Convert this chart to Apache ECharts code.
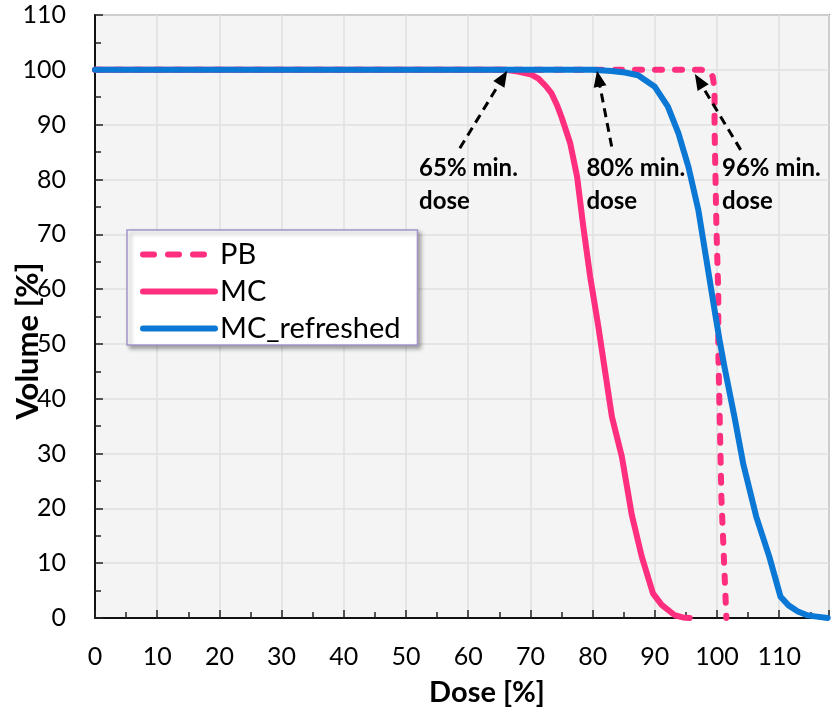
<!DOCTYPE html>
<html>
<head>
<meta charset="utf-8">
<script src="https://cdn.jsdelivr.net/npm/echarts@6/dist/echarts.min.js"></script>
<style>html,body{margin:0;padding:0;background:#fff}#c{width:832px;height:711px}</style>
</head>
<body>
<div id="c"></div>
<script>
// ---- data ----
var seriesNames = ['PB', 'MC', 'MC_refreshed'];
var pbData = [[0,100],[97.5,100],[98.6,99.8],[99.3,98.8],[99.6,96.5],[99.6,89.6],[99.9,71.4],[100.2,59.3],[100.2,48.9],[100.7,22],[101.5,0]];
var mcData = [[0,100],[66,100],[68,99.7],[70,99.2],[71.3,98.4],[72.5,97],[73.4,95.7],[74.3,93.5],[75,91.4],[76.4,86.6],[77.5,80.5],[78.5,71.4],[79.6,62.3],[80.9,53.3],[82,45],[83.1,36.7],[84.7,29.4],[86.3,18.8],[87.9,11.2],[89.7,4.5],[91.1,2.4],[93.2,0.5],[94.5,0.1],[95.6,0]];
var mcRefData = [[0,100],[80,100],[83,99.8],[85.2,99.5],[87.3,99],[90,96.9],[92.1,93.3],[93.8,88.4],[95.4,82.3],[97,74.4],[98.3,65.3],[99.6,56.2],[100.4,50.7],[101.2,45.8],[102.8,36.7],[104.2,28.2],[106.3,18.5],[108.4,11.2],[110.2,3.9],[111.5,2.3],[113,1.2],[114.5,0.5],[115.7,0.3],[117.8,0]];
var annotTexts = ['65% min.\ndose', '80% min.\ndose', '96% min.\ndose'];
var annotPos = [[52.1,79.0],[79.0,79.0],[100.8,79.0]];
var arrowFrom = [[58.65,85.7],[83.06,86.0],[103.8,85.4]];
var arrowTo = [[65.6,98.6],[80.95,98.4],[97.1,98.0]];
var xTicks = [0,10,20,30,40,50,60,70,80,90,100,110];
var yTicks = [0,10,20,30,40,50,60,70,80,90,100,110];
var xName = 'Dose [%]';
var yName = 'Volume [%]';

var PINK = '#ff2e7e', BLUE = '#0a78d4';
var FONT = 'Lato';

var chart = echarts.init(document.getElementById('c'), null, {renderer: 'canvas'});
var annotData = annotPos.map(function (p, i) { return {value: p, label: {formatter: annotTexts[i]}}; });
var arrowLines = arrowFrom.map(function (f, i) { return [{coord: f}, {coord: arrowTo[i]}]; });
var legendData = seriesNames.map(function (n, i) {
  return i === 0 ? {name: n, lineStyle: {type: [11, 14]}} : {name: n};
});

chart.setOption({
  animation: false,
  grid: {left: 95, top: 15, right: 0, bottom: 93, show: true, backgroundColor: '#f4f4f4', borderColor: '#999', borderWidth: 2},
  legend: {
    data: legendData, orient: 'vertical', left: 127, top: 230,
    backgroundColor: '#fff', borderColor: '#a394c9', borderWidth: 1.5,
    shadowColor: 'rgba(0,0,0,0.35)', shadowBlur: 4, shadowOffsetX: 3, shadowOffsetY: 3,
    padding: [10, 17, 2, 13], itemWidth: 72, itemHeight: 20, itemGap: 8,
    lineStyle: {width: 6},
    itemStyle: {color: 'rgba(0,0,0,0)', borderWidth: 0, opacity: 0},
    textStyle: {fontFamily: FONT, fontSize: 29, color: '#000'}
  },
  xAxis: {
    type: 'value', min: 0, max: 118, interval: 10,
    axisLine: {lineStyle: {color: '#111', width: 2}},
    axisTick: {inside: true, length: 8, lineStyle: {color: '#222', width: 1.5}},
    minorTick: {show: true, splitNumber: 2, length: 6, lineStyle: {color: '#222', width: 1.5}},
    splitLine: {show: true, lineStyle: {color: '#e0e0e0', width: 1.5}},
    axisLabel: {margin: 26, fontFamily: FONT, fontSize: 25, color: '#000',
      formatter: function (v) { return xTicks.indexOf(v) >= 0 ? String(v) : ''; }}
  },
  yAxis: {
    type: 'value', min: 0, max: 110, interval: 10,
    axisLine: {show: true, lineStyle: {color: '#111', width: 2}},
    axisTick: {show: true, inside: true, length: 8, lineStyle: {color: '#222', width: 1.5}},
    minorTick: {show: true, splitNumber: 2, length: 6, lineStyle: {color: '#222', width: 1.5}},
    splitLine: {show: true, lineStyle: {color: '#e0e0e0', width: 1.5}},
    axisLabel: {margin: 29, fontFamily: FONT, fontSize: 25, color: '#000',
      formatter: function (v) { return yTicks.indexOf(v) >= 0 ? String(v) : ''; }}
  },
  graphic: [
    {type: 'text', x: 487, y: 693, style: {text: xName, font: 'bold 29px ' + FONT, fill: '#000', align: 'center', verticalAlign: 'middle'}},
    {type: 'text', x: 28, y: 341, rotation: Math.PI / 2, style: {text: yName, font: 'bold 31px ' + FONT, fill: '#000', align: 'center', verticalAlign: 'middle'}}
  ],
  series: [
    {name: 'PB', type: 'line', data: pbData, symbol: 'none', color: PINK,
      lineStyle: {color: PINK, width: 6, type: [7, 13], cap: 'round'}},
    {name: 'MC', type: 'line', data: mcData, symbol: 'none', color: PINK,
      lineStyle: {color: PINK, width: 6, cap: 'round', join: 'round'}},
    {name: 'MC_refreshed', type: 'line', data: mcRefData, symbol: 'none', color: BLUE,
      lineStyle: {color: BLUE, width: 6, cap: 'round', join: 'round'}},
    {name: 'annot', type: 'scatter', data: annotData, symbolSize: 0, silent: true, z: 5,
      itemStyle: {opacity: 1},
      label: {show: true, position: 'right', distance: 0, fontFamily: FONT, fontWeight: 'bold', fontSize: 24, lineHeight: 33, color: '#000'},
      markLine: {silent: true, symbol: ['none', 'triangle'], symbolSize: [13, 16],
        lineStyle: {color: '#000', width: 3, type: [9, 6], opacity: 1}, label: {show: false},
        data: arrowLines}}
  ]
});
</script>
</body>
</html>
